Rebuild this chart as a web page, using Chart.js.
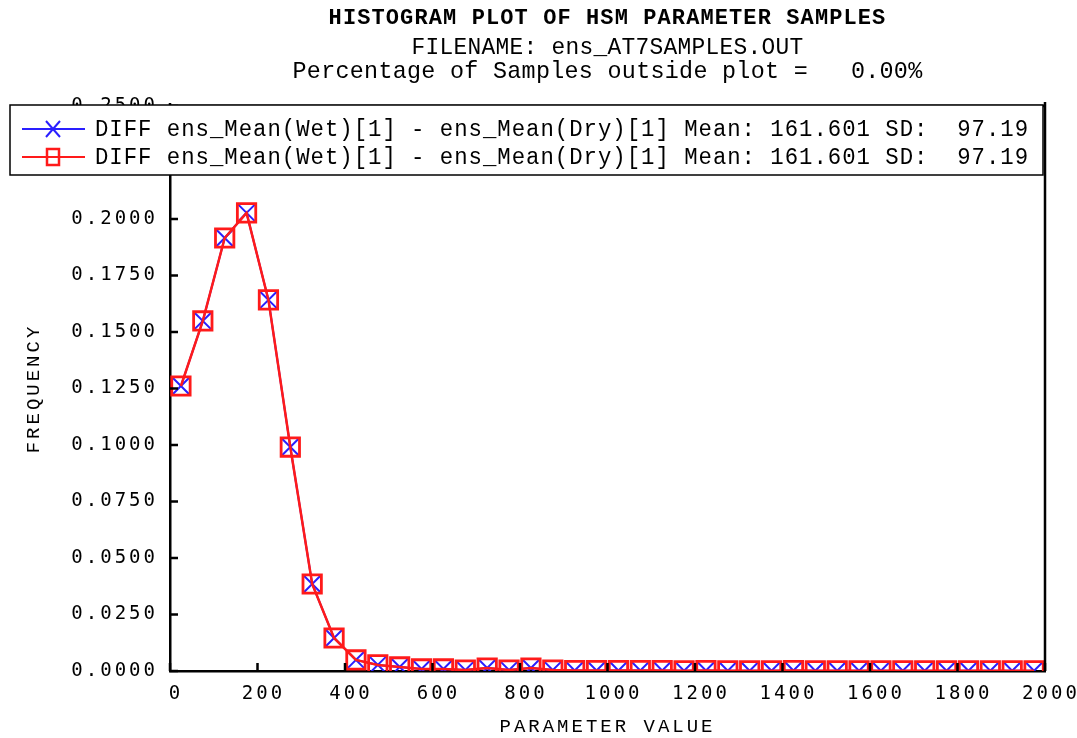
<!DOCTYPE html>
<html>
<head>
<meta charset="utf-8">
<script src="https://cdn.jsdelivr.net/npm/chart.js@4/dist/chart.umd.min.js"></script>
<style>
  html, body { margin: 0; padding: 0; background: #fff; }
  canvas { display: block; }
</style>
</head>
<body>
<canvas id="hist" width="1077" height="738"></canvas>
<script>
// bin centres of the histogram (parameter value)
const binCenters = [
  25, 75, 125, 175, 225, 275, 325, 375, 425, 475,
  525, 575, 625, 675, 725, 775, 825, 875, 925, 975,
  1025, 1075, 1125, 1175, 1225, 1275, 1325, 1375, 1425, 1475,
  1525, 1575, 1625, 1675, 1725, 1775, 1825, 1875, 1925, 1975
]
// frequency per bin (both series are the same samples)
const freqWet = [
  0.1261, 0.1549, 0.1916, 0.2027, 0.1642, 0.0991, 0.0385, 0.0146, 0.0049, 0.0027,
  0.0018, 0.0009, 0.0009, 0.0004, 0.0013, 0.0004, 0.0013, 0.0004, 0.0002, 0.0002,
  0.0002, 0.0002, 0.0002, 0.0001, 0.0002, 0.0001, 0.0001, 0.0001, 0.0002, 0.0001,
  0.0001, 0.0001, 0.0001, 0.0001, 0.0001, 0.0001, 0.0001, 0.0001, 0.0001, 0.0001
]
const freqDry = freqWet.slice()

const xTicks = [0, 200, 400, 600, 800, 1000, 1200, 1400, 1600, 1800, 2000]
const yTicks = [0, 0.025, 0.05, 0.075, 0.1, 0.125, 0.15, 0.175, 0.2, 0.225, 0.25]

const seriesLabel = "DIFF ens_Mean(Wet)[1] - ens_Mean(Dry)[1] Mean: 161.601 SD:  97.19"
const titleLines = [
  "HISTOGRAM PLOT OF HSM PARAMETER SAMPLES",
  "FILENAME: ens_AT7SAMPLES.OUT",
  "Percentage of Samples outside plot =   0.00%"
]

const TICK_FONT = "'DejaVu Sans Mono', monospace"
const SERIF_MONO = "'Liberation Mono', 'Courier New', monospace"

const spacingPlugin = {
  id: "spacing",
  beforeUpdate(chart) { chart.ctx.letterSpacing = "3px" },
  beforeDraw(chart) { chart.ctx.letterSpacing = "3px" }
}

const decorPlugin = {
  id: "decor",
  afterDatasetsDraw(chart) {
    const { ctx, chartArea: a, scales } = chart
    ctx.save()
    ctx.strokeStyle = "#000"
    ctx.lineWidth = 2.5
    // frame (top + right)
    ctx.beginPath()
    ctx.moveTo(a.left, a.top - 3)
    ctx.lineTo(a.left, a.top)
    ctx.lineTo(a.right, a.top)
    ctx.moveTo(a.right, a.top - 4)
    ctx.lineTo(a.right, a.bottom)
    ctx.stroke()
    // inward tick marks
    ctx.beginPath()
    scales.y.ticks.forEach((t) => {
      const py = scales.y.getPixelForValue(t.value)
      ctx.moveTo(a.left, py)
      ctx.lineTo(a.left + 8, py)
    })
    scales.x.ticks.forEach((t) => {
      const px = scales.x.getPixelForValue(t.value)
      ctx.moveTo(px, a.bottom)
      ctx.lineTo(px, a.bottom - 8)
    })
    ctx.stroke()
    ctx.restore()
  },
  afterDraw(chart) {
    const { ctx, chartArea: a } = chart
    const cx = (a.left + a.right) / 2
    ctx.save()
    ctx.fillStyle = "#000"
    ctx.textAlign = "center"
    ctx.textBaseline = "middle"
    ctx.letterSpacing = "1.1px"
    ctx.font = "bold 22px " + SERIF_MONO
    ctx.fillText(titleLines[0], cx, 18)
    ctx.letterSpacing = "0.3px"
    ctx.font = "24px " + SERIF_MONO
    ctx.fillText(titleLines[1], cx, 48, 392)
    ctx.fillText(titleLines[2], cx, 72, 630)

    // legend box
    const bx = 10, by = 105, bw = 1033, bh = 70
    ctx.fillStyle = "#fff"
    ctx.fillRect(bx, by, bw, bh)
    ctx.strokeStyle = "#000"
    ctx.lineWidth = 1.5
    ctx.strokeRect(bx, by, bw, bh)

    const rows = [
      { y: 129, color: "#2a1fff", marker: "x" },
      { y: 157, color: "#ff1a1a", marker: "sq" }
    ]
    rows.forEach((r) => {
      ctx.strokeStyle = r.color
      ctx.lineWidth = 2
      ctx.beginPath()
      ctx.moveTo(22, r.y)
      ctx.lineTo(85, r.y)
      ctx.stroke()
      ctx.beginPath()
      if (r.marker === "x") {
        ctx.moveTo(46, r.y - 8); ctx.lineTo(60, r.y + 8)
        ctx.moveTo(60, r.y - 8); ctx.lineTo(46, r.y + 8)
      } else {
        ctx.lineWidth = 2.5
        ctx.rect(47, r.y - 8, 12, 16)
      }
      ctx.stroke()
      ctx.fillStyle = "#000"
      ctx.textAlign = "left"
      ctx.letterSpacing = "1px"
      ctx.font = "23px " + SERIF_MONO
      ctx.fillText(seriesLabel, 95, r.y + 1, 934)
    })
    ctx.restore()
  }
}

new Chart(document.getElementById("hist").getContext("2d"), {
  type: "line",
  data: {
    datasets: [
      {
        label: seriesLabel,
        data: binCenters.map((x, i) => ({ x, y: freqDry[i] })),
        borderColor: "#ff1a1a",
        borderWidth: 2.5,
        pointStyle: "rect",
        pointRadius: 13,
        pointBorderWidth: 2.8,
        pointBorderColor: "#ff1a1a",
        pointBackgroundColor: "rgba(0,0,0,0)",
        tension: 0,
        order: 0
      },
      {
        label: seriesLabel,
        data: binCenters.map((x, i) => ({ x, y: freqWet[i] })),
        borderColor: "#2a1fff",
        borderWidth: 2,
        pointStyle: "crossRot",
        pointRadius: 12,
        pointBorderWidth: 2,
        pointBorderColor: "#2a1fff",
        tension: 0,
        order: 1
      }
    ]
  },
  options: {
    responsive: false,
    animation: false,
    events: [],
    layout: { padding: { left: 0, right: 32, top: 106, bottom: 0 } },
    plugins: {
      legend: { display: false },
      tooltip: { enabled: false },
      title: { display: false }
    },
    scales: {
      x: {
        type: "linear",
        min: 0,
        max: 2000,
        afterBuildTicks: (s) => { s.ticks = xTicks.map((v) => ({ value: v })) },
        afterFit: (s) => { s.height = 67; s.paddingLeft = 0; s.paddingRight = 0 },
        grid: { display: true, drawOnChartArea: false, drawTicks: false },
        border: { display: true, color: "#000", width: 2.5 },
        ticks: {
          color: "#000",
          font: { family: TICK_FONT, size: 19 },
          padding: 12,
          labelOffset: 6,
          maxRotation: 0,
          callback: (v) => String(v)
        },
        title: {
          display: true,
          text: "PARAMETER VALUE",
          color: "#000",
          font: { family: SERIF_MONO, size: 19 },
          padding: { top: 0, bottom: 0 }
        }
      },
      y: {
        min: 0,
        max: 0.25,
        afterBuildTicks: (s) => { s.ticks = yTicks.map((v) => ({ value: v })) },
        afterFit: (s) => { s.width = 170 },
        grid: { display: true, drawOnChartArea: false, drawTicks: false },
        border: { display: true, color: "#000", width: 2.5 },
        ticks: {
          color: "#000",
          font: { family: TICK_FONT, size: 19 },
          padding: 12,
          callback: (v) => v.toFixed(4)
        },
        title: {
          display: true,
          text: "FREQUENCY",
          color: "#000",
          font: { family: SERIF_MONO, size: 19 },
          padding: { top: 23, bottom: 0 }
        }
      }
    }
  },
  plugins: [spacingPlugin, decorPlugin]
})
</script>
</body>
</html>
